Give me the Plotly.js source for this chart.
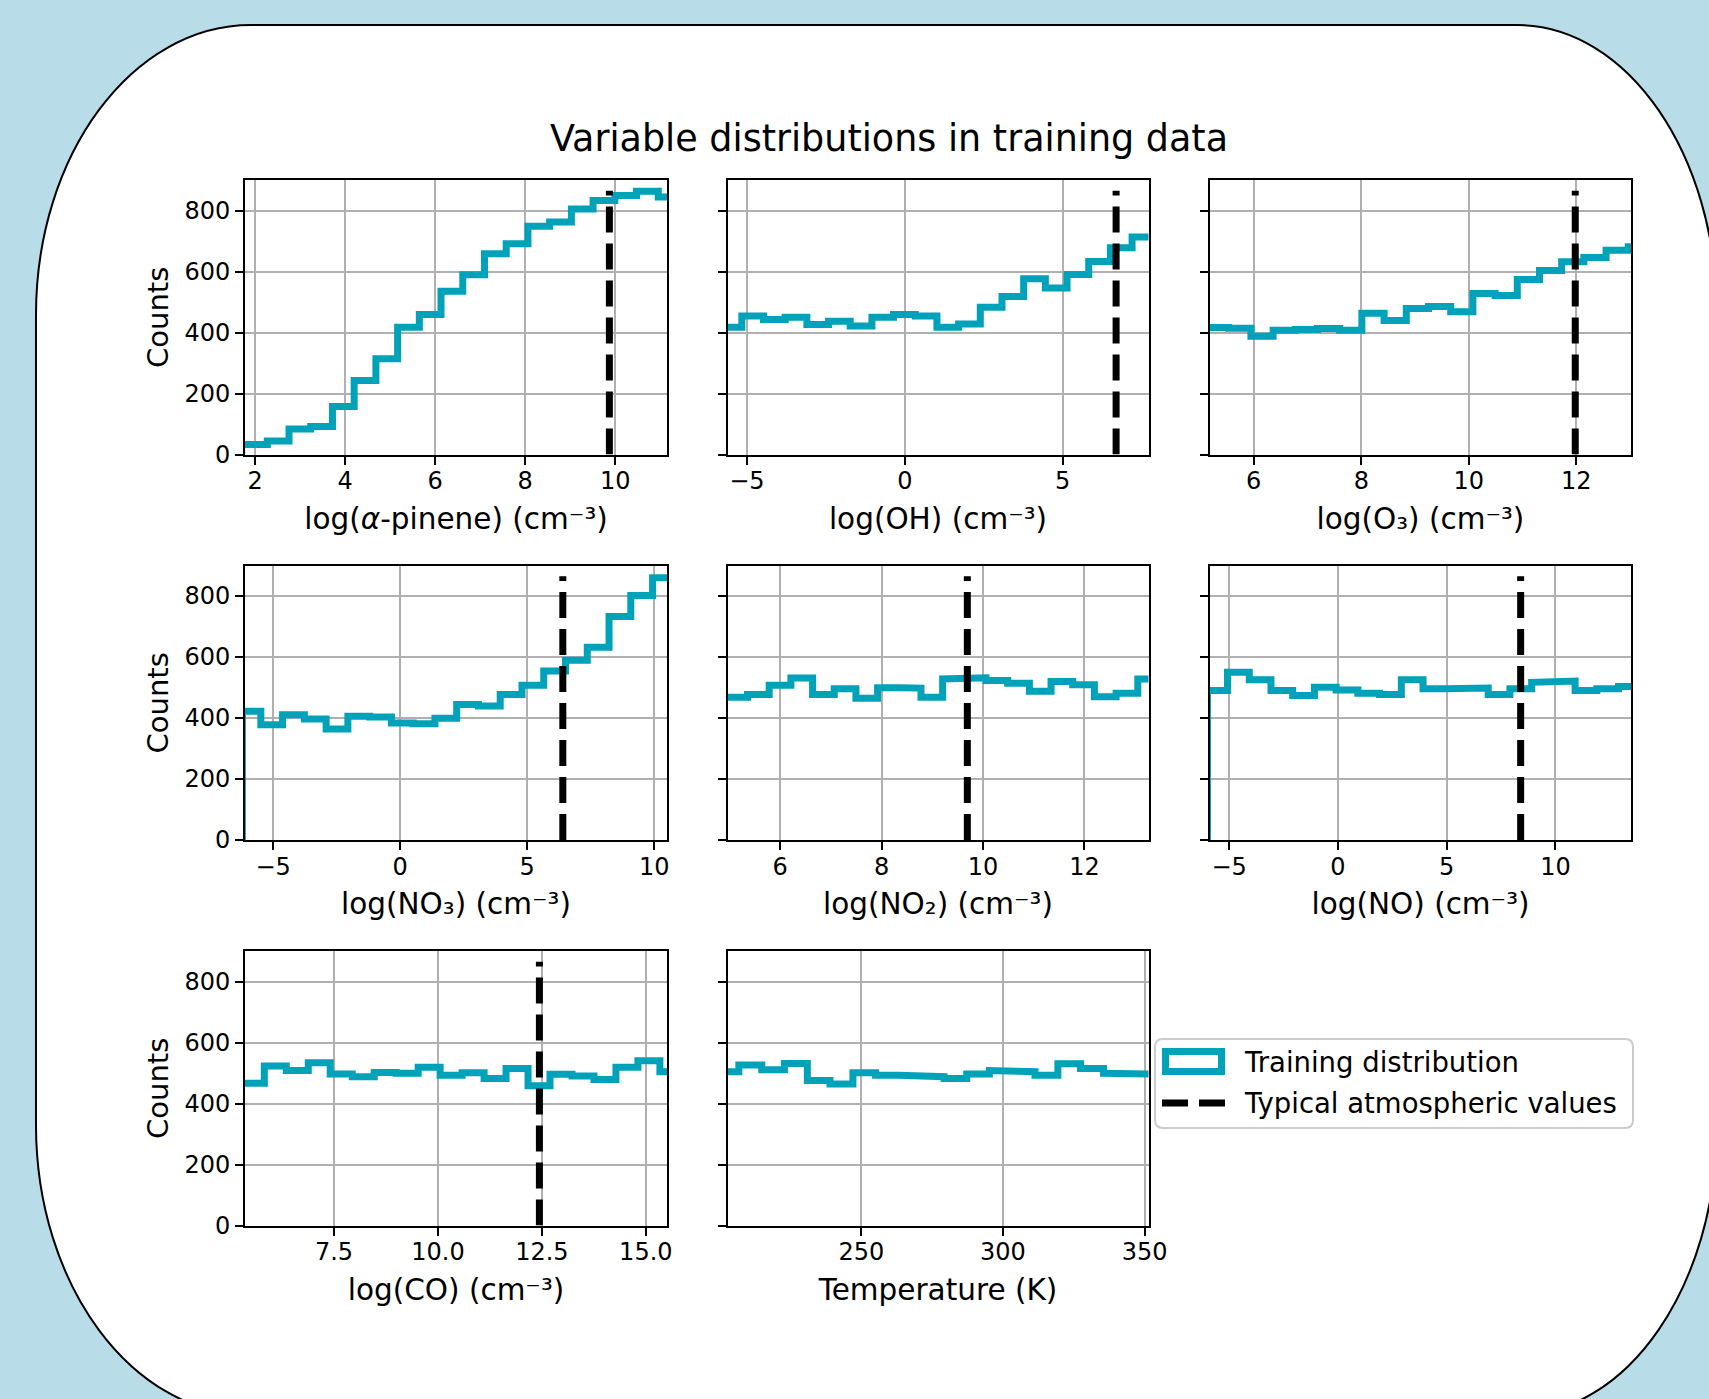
<!DOCTYPE html>
<html>
<head>
<meta charset="utf-8">
<script src="https://cdn.plot.ly/plotly-3.0.1.min.js"></script>
<style>
  html, body { margin: 0; padding: 0; background: #b8dde8; }
  #chart { width: 1709px; height: 1399px; }
</style>
</head>
<body>
<div id="chart"></div>
<script>
// ---------------- data ----------------
const chartTitle = 'Variable distributions in training data';
const legendNames = ['Training distribution', 'Typical atmospheric values'];

const axisLabels = [
  'log(<i>α</i>-pinene) (cm⁻³)',
  'log(OH) (cm⁻³)',
  'log(O₃) (cm⁻³)',
  'log(NO₃) (cm⁻³)',
  'log(NO₂) (cm⁻³)',
  'log(NO) (cm⁻³)',
  'log(CO) (cm⁻³)',
  'Temperature (K)'
];
const yLabel = 'Counts';

// histogram bin edges and counts, one pair per panel
const edges_aPinene = [1.70, 2.270, 2.753, 3.235, 3.718, 4.200, 4.683, 5.165, 5.648, 6.130, 6.613, 7.096, 7.578, 8.061, 8.543, 9.026, 9.508, 9.991, 10.473, 10.956, 11.438];
const counts_aPinene = [33, 44, 84, 92, 157, 243, 314, 417, 459, 535, 589, 658, 691, 748, 762, 805, 833, 849, 863, 844];

const edges_OH = [-5.847, -5.161, -4.475, -3.788, -3.102, -2.415, -1.729, -1.042, -0.356, 0.331, 1.017, 1.704, 2.390, 3.077, 3.763, 4.450, 5.136, 5.823, 6.509, 7.196, 7.882];
const counts_OH = [417, 454, 443, 450, 426, 437, 421, 450, 459, 454, 417, 428, 483, 518, 576, 546, 590, 633, 678, 713];

const edges_O3 = [5.10, 5.534, 5.947, 6.360, 6.773, 7.186, 7.598, 8.011, 8.424, 8.837, 9.250, 9.663, 10.076, 10.489, 10.902, 11.315, 11.727, 12.140, 12.553, 12.966, 13.379];
const counts_O3 = [416, 414, 388, 407, 410, 413, 407, 463, 439, 479, 485, 468, 528, 521, 574, 603, 632, 646, 670, 681];

const edges_NO3 = [-6.21, -5.485, -4.629, -3.772, -2.916, -2.059, -1.203, -0.346, 0.510, 1.367, 2.223, 3.080, 3.936, 4.793, 5.649, 6.506, 7.362, 8.219, 9.075, 9.932, 10.788];
const counts_NO3 = [422, 378, 411, 397, 364, 406, 403, 384, 381, 399, 444, 439, 477, 507, 554, 589, 632, 733, 802, 860];

const edges_NO2 = [4.85, 5.355, 5.782, 6.210, 6.638, 7.065, 7.493, 7.920, 8.348, 8.776, 9.203, 9.631, 10.058, 10.486, 10.914, 11.341, 11.769, 12.196, 12.624, 13.052, 13.479];
const counts_NO2 = [468, 477, 507, 531, 477, 496, 465, 499, 498, 468, 528, 532, 523, 514, 488, 520, 509, 470, 481, 528];

const edges_NO = [-6.0, -5.076, -4.077, -3.079, -2.080, -1.081, -0.083, 0.916, 1.915, 2.914, 3.912, 4.911, 5.910, 6.908, 7.907, 8.906, 9.904, 10.903, 11.902, 12.901, 13.899];
const counts_NO = [490, 550, 525, 490, 474, 501, 492, 481, 477, 525, 496, 496, 498, 477, 496, 517, 521, 490, 496, 503];

const edges_CO = [5.25, 5.824, 6.352, 6.881, 7.409, 7.938, 8.467, 8.995, 9.524, 10.052, 10.581, 11.110, 11.638, 12.167, 12.695, 13.224, 13.753, 14.281, 14.810, 15.338, 15.867];
const counts_CO = [466, 523, 508, 534, 497, 488, 502, 499, 519, 493, 501, 482, 515, 458, 496, 490, 479, 519, 540, 504];

const edges_T = [198.7, 206.7, 214.8, 222.8, 230.9, 238.9, 247.0, 255.0, 263.1, 271.1, 279.2, 287.2, 295.2, 303.3, 311.3, 319.4, 327.4, 335.5, 343.5, 351.6];
const counts_T = [504, 526, 511, 531, 475, 464, 501, 493, 493, 488, 482, 497, 508, 504, 493, 530, 515, 499, 497];

// typical atmospheric values (null = none drawn)
const typicalValues = [9.87, 6.69, 11.98, 6.40, 9.69, 8.40, 12.44, null];
const typicalLineTop = 865;

// axis limits and tick steps
const xLimits = [[1.775, 11.15], [-5.615, 7.716], [5.186, 13.017], [-6.108, 10.50],
                 [4.96, 13.263], [-5.882, 13.473], [5.359, 15.509], [202.7, 351.4]];
const xTickSteps = [2, 5, 2, 5, 2, 5, 2.5, 50];
const yLimit = [0, 900];
const yTickStep = 200;

// ---------------- build ----------------
const allEdges = [edges_aPinene, edges_OH, edges_O3, edges_NO3, edges_NO2, edges_NO, edges_CO, edges_T];
const allCounts = [counts_aPinene, counts_OH, counts_O3, counts_NO3, counts_NO2, counts_NO, counts_CO, counts_T];

const W = 1709, H = 1399;
const teal = '#00a2b9';
const font = 'DejaVu Sans, Verdana, sans-serif';
const px = x => x / W;
const py = y => 1 - y / H;

const colDom = [[px(245), px(667)], [px(727.5), px(1148.5)], [px(1210), px(1631)]];
const rowDom = [[py(454.5), py(180)], [py(840), py(565.5)], [py(1225.5), py(951)]];

const traces = [];
const layout = {
  width: W, height: H,
  margin: {l: 0, r: 0, t: 0, b: 0},
  paper_bgcolor: '#b8dde8',
  plot_bgcolor: '#ffffff',
  font: {family: font, color: '#000000', size: 24},
  title: {
    text: chartTitle, x: px(889), xanchor: 'center', y: py(138), yanchor: 'middle',
    font: {family: font, size: 36.5, color: '#000000'}
  },
  showlegend: false,
  shapes: [],
  annotations: [],
  hovermode: false
};

// path helper in paper coordinates from pixel positions
const pt = (x, y) => px(x).toFixed(5) + ',' + py(y).toFixed(5);

// rounded white panel behind the figure
(function () {
  const L = 36, T = 25, R = 1717, B = 1415, rxL = 215, rxR = 200, ry = 290, k = 0.5523;
  const d =
    'M' + pt(L, T + ry) +
    ' C' + pt(L, T + ry - k * ry) + ' ' + pt(L + rxL - k * rxL, T) + ' ' + pt(L + rxL, T) +
    ' L' + pt(R - rxR, T) +
    ' C' + pt(R - rxR + k * rxR, T) + ' ' + pt(R, T + ry - k * ry) + ' ' + pt(R, T + ry) +
    ' L' + pt(R, B - ry) +
    ' C' + pt(R, B - ry + k * ry) + ' ' + pt(R - rxR + k * rxR, B) + ' ' + pt(R - rxR, B) +
    ' L' + pt(L + rxL, B) +
    ' C' + pt(L + rxL - k * rxL, B) + ' ' + pt(L, B - ry + k * ry) + ' ' + pt(L, B - ry) + ' Z';
  layout.shapes.push({type: 'path', xref: 'paper', yref: 'paper', path: d, layer: 'below',
    fillcolor: '#ffffff', line: {color: '#000000', width: 2}});
})();

allEdges.forEach((edges, i) => {
  const n = i + 1;
  const xa = n === 1 ? 'x' : 'x' + n;
  const ya = n === 1 ? 'y' : 'y' + n;
  const col = i % 3, row = Math.floor(i / 3);
  const counts = allCounts[i];

  const xs = [edges[0]], ys = [0];
  counts.forEach((c, j) => { xs.push(edges[j], edges[j + 1]); ys.push(c, c); });

  traces.push({
    type: 'scatter', mode: 'lines', x: xs, y: ys, xaxis: xa, yaxis: ya,
    line: {color: teal, width: 7}, name: legendNames[0], hoverinfo: 'skip'
  });
  if (typicalValues[i] !== null) {
    traces.push({
      type: 'scatter', mode: 'lines', x: [typicalValues[i], typicalValues[i]], y: [0, typicalLineTop],
      xaxis: xa, yaxis: ya, line: {color: '#000000', width: 7, dash: '26px,11px'},
      name: legendNames[1], hoverinfo: 'skip'
    });
  }

  const common = {
    ticks: 'outside', ticklen: 8, tickwidth: 2, tickcolor: '#000000',
    showline: true, linecolor: '#000000', linewidth: 2, mirror: true,
    showgrid: true, gridcolor: '#b0b0b0', gridwidth: 2, zeroline: false,
    tickfont: {family: font, size: 24, color: '#000000'}, fixedrange: true
  };
  layout['xaxis' + (n === 1 ? '' : n)] = Object.assign({}, common, {
    domain: colDom[col], anchor: ya, range: xLimits[i],
    tick0: 0, dtick: xTickSteps[i], tickformat: xTickSteps[i] === 2.5 ? '.1f' : '',
    ticklabelstandoff: -4,
    title: {text: axisLabels[i], font: {family: font, size: 29.5, color: '#000000'}, standoff: 14}
  });
  const yax = Object.assign({}, common, {
    domain: rowDom[row], anchor: xa, range: yLimit, tick0: 0, dtick: yTickStep,
    showticklabels: col === 0
  });
  if (col === 0) yax.title = {text: yLabel, font: {family: font, size: 29, color: '#000000'}, standoff: 7};
  layout['yaxis' + (n === 1 ? '' : n)] = yax;
});

// legend box (drawn like the reference: hollow patch + dashed sample)
(function () {
  const x1 = 1155, x2 = 1633, y1 = 1039, y2 = 1128, r = 8;
  const d = 'M' + pt(x1 + r, y1) + ' L' + pt(x2 - r, y1) + ' Q' + pt(x2, y1) + ' ' + pt(x2, y1 + r) +
    ' L' + pt(x2, y2 - r) + ' Q' + pt(x2, y2) + ' ' + pt(x2 - r, y2) +
    ' L' + pt(x1 + r, y2) + ' Q' + pt(x1, y2) + ' ' + pt(x1, y2 - r) +
    ' L' + pt(x1, y1 + r) + ' Q' + pt(x1, y1) + ' ' + pt(x1 + r, y1) + ' Z';
  layout.shapes.push({type: 'path', xref: 'paper', yref: 'paper', path: d, layer: 'above',
    fillcolor: 'rgba(255,255,255,0.85)', line: {color: '#cccccc', width: 2}});
  layout.shapes.push({type: 'rect', xref: 'paper', yref: 'paper', layer: 'above',
    x0: px(1165.5), x1: px(1221.5), y0: py(1071.5), y1: py(1051.5),
    fillcolor: 'rgba(0,0,0,0)', line: {color: teal, width: 7}});
  layout.shapes.push({type: 'line', xref: 'paper', yref: 'paper', layer: 'above',
    x0: px(1162), x1: px(1225), y0: py(1103), y1: py(1103),
    line: {color: '#000000', width: 7, dash: '26px,11px'}});
  [[legendNames[0], 1062], [legendNames[1], 1103]].forEach(([t, y]) => {
    layout.annotations.push({xref: 'paper', yref: 'paper', x: px(1242), y: py(y),
      xanchor: 'left', yanchor: 'middle', showarrow: false, text: t,
      font: {family: font, size: 27.5, color: '#000000'}});
  });
})();

Plotly.newPlot('chart', traces, layout, {displayModeBar: false, staticPlot: true});
</script>
</body>
</html>
